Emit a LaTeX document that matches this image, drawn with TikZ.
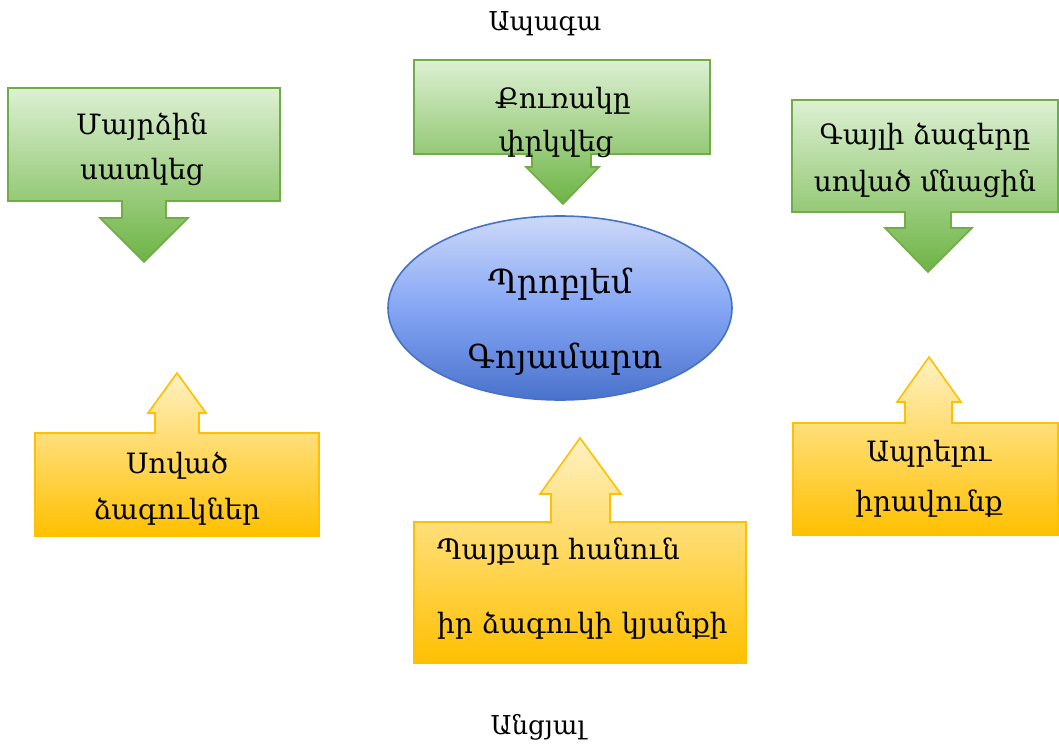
\documentclass[tikz,border=0pt]{standalone}
\usepackage{fontspec}
\usetikzlibrary{shapes.geometric}
\setmainfont{DejaVu Serif}
\begin{document}
\begin{tikzpicture}[x=1pt,y=-1pt,
  greenshape/.style={draw=gbd, line width=1.6pt, top color=gtop, bottom color=gbot},
  yellowshape/.style={draw=ybd, line width=1.6pt, top color=ytop, bottom color=ybot},
  lbl/.style={font=\fontsize{28}{32}\selectfont, inner sep=0pt, anchor=base},
  biglbl/.style={font=\fontsize{33}{38}\selectfont, inner sep=0pt, anchor=base},
  smalllbl/.style={font=\fontsize{26}{30}\selectfont, inner sep=0pt, anchor=base}]
\definecolor{gbd}{HTML}{70AD47}
\definecolor{gtop}{HTML}{DDF0D3}
\definecolor{gbot}{HTML}{6DB444}
\definecolor{ybd}{HTML}{FFC000}
\definecolor{ytop}{HTML}{FFF1C2}
\definecolor{ybot}{HTML}{FFC000}
\definecolor{btop}{HTML}{CCD8F8}
\definecolor{bmid}{HTML}{85A6F5}
\definecolor{bbot}{HTML}{4A72CC}
\definecolor{bbd}{HTML}{4472C4}
\useasboundingbox (0,0) rectangle (1059,749);
% top-left green callout
\path[greenshape] (8,88) -- (280,88) -- (280,201) -- (166,201) -- (166,218) -- (188,218) -- (144,262) -- (100,218) -- (122,218) -- (122,201) -- (8,201) -- cycle;
% top-centre green callout
\path[greenshape] (414,60) -- (710,60) -- (710,154) -- (591,154) -- (591,167) -- (599,167) -- (563,204) -- (526,167) -- (532,167) -- (532,154) -- (414,154) -- cycle;
% top-right green callout
\path[greenshape] (792,100) -- (1058,100) -- (1058,212) -- (951,212) -- (951,228) -- (972,228) -- (928,272) -- (885,228) -- (905,228) -- (905,212) -- (792,212) -- cycle;
% bottom-left yellow callout
\path[yellowshape] (35,536) -- (319,536) -- (319,433) -- (199,433) -- (199,413) -- (206,413) -- (177,373) -- (148,413) -- (155,413) -- (155,433) -- (35,433) -- cycle;
% bottom-right yellow callout
\path[yellowshape] (793,535) -- (1058,535) -- (1058,423) -- (952,423) -- (952,402) -- (961,402) -- (929,357) -- (897,402) -- (905,402) -- (905,423) -- (793,423) -- cycle;
% bottom-centre yellow callout
\path[yellowshape] (414,663) -- (746,663) -- (746,522) -- (610,522) -- (610,494) -- (621,494) -- (580,438) -- (540,494) -- (551,494) -- (551,522) -- (414,522) -- cycle;
% ellipse
\node (prob) [ellipse, draw=bbd, line width=1.6pt, top color=btop, bottom color=bbot, middle color=bmid, minimum width=344pt, minimum height=184pt, inner sep=0pt] at (560,308) {};
% texts
\node (ap) [smalllbl] at (545,31) {Ապագա};
\node (an) [smalllbl] at (538,734) {Անցյալ};
\node (t1a) [lbl] at (142,134) {Մայրձին};
\node (t1b) [lbl] at (142,179) {սատկեց};
\node (t2a) [lbl] at (563,109) {Քուռակը};
\node (t2b) [lbl] at (556,151) {փրկվեց};
\node (t3a) [lbl] at (925,144) {Գայլի ձագերը};
\node (t3b) [lbl] at (925,191) {սոված մնացին};
\node (e1) [biglbl] at (560,293) {Պրոբլեմ};
\node (e2) [biglbl] at (565,368) {Գոյամարտ};
\node (b1a) [lbl] at (177,473) {Սոված};
\node (b1b) [lbl] at (177,519) {ձագուկներ};
\node (b2a) [lbl] at (929,461) {Ապրելու};
\node (b2b) [lbl] at (929,511) {իրավունք};
\node (b3a) [lbl, anchor=base west] at (437,559) {Պայքար հանուն};
\node (b3b) [lbl, anchor=base west] at (437,633) {իր ձագուկի կյանքի};
\end{tikzpicture}
\end{document}
